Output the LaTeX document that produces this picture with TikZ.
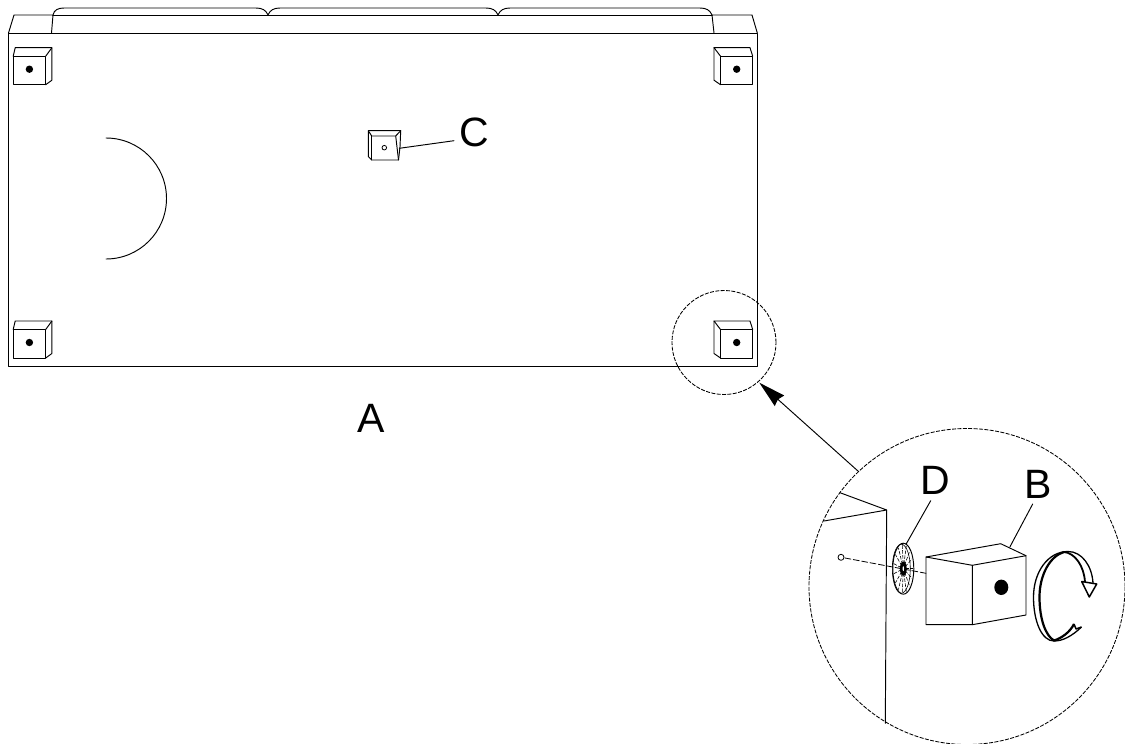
\documentclass[tikz,border=0pt]{standalone}
\usepackage{fontspec}
\setmainfont{Liberation Sans}
\usetikzlibrary{arrows.meta}
\tikzset{
  ln/.style={draw=black,line width=0.95pt,line join=round,line cap=round},
  thin ln/.style={draw=black,line width=0.8pt,line cap=round},
  detail/.style={draw=black,line width=0.85pt,dash pattern=on 4pt off 1.4pt},
  lab/.style={inner sep=0pt,font=\fontsize{41}{41}\selectfont},
  rot/.style={draw=black,line width=1.5pt,line join=round}
}
\newcommand{\footL}[2]{% foot seen with its side on the right
  \begin{scope}[shift={(#1,#2)}]
    \draw[ln] (0,8.5) rectangle (32.5,37);
    \draw[ln] (0,8.5) -- (2,0) -- (38.7,0) -- (38.7,32.5) -- (32.5,37);
    \draw[ln] (32.5,8.5) -- (38.7,0);
    \fill (16.2,21.5) circle[radius=3.7];
  \end{scope}}
\newcommand{\footR}[2]{%
  \begin{scope}[shift={(#1,#2)}]
    \draw[ln] (6.5,8.5) rectangle (38.7,37);
    \draw[ln] (6.5,8.5) -- (0,0) -- (36,0) -- (38.7,8.5);
    \draw[ln] (0,0) -- (0,32.5) -- (6.5,37);
    \fill (22.7,21.5) circle[radius=3.7];
  \end{scope}}
\begin{document}
\begin{tikzpicture}[x=1pt,y=-1pt]
\useasboundingbox[fill=white] (0,0) rectangle (1125,744);
% main panel
\draw[ln] (8.5,33) rectangle (757.3,366);
\draw[ln] (8.5,33) -- (14,15) -- (53,15) -- (51.5,33);
\draw[ln] (714,33) -- (712,15) -- (752,15) -- (757.3,33);
\draw[ln] (53,15) -- (712,15);
\draw[ln] (53,15) .. controls (54,10) and (58,8) .. (64,8) -- (256,8)
  .. controls (262,8) and (266,10) .. (268,15)
  .. controls (270,10) and (274,8) .. (280,8) -- (486,8)
  .. controls (492,8) and (496,10) .. (498,15)
  .. controls (500,10) and (504,8) .. (510,8) -- (700,8)
  .. controls (706,8) and (710,10) .. (712,15);
% feet
\footL{13.2}{47.7}
\footR{714}{47.7}
\footL{13.2}{321}
\footR{714}{321}
% centre foot C
\draw[ln] (368.3,130.7) -- (400.7,130.7) -- (400,147) -- (398.5,160) -- (371.7,160) -- (368.3,156.5) -- cycle;
\draw[ln] (368.3,130.7) -- (371.7,136) -- (395.7,136) -- (400.7,130.7);
\draw[ln] (371.7,136) -- (371.7,160);
\draw[ln] (395.7,136) -- (398.5,160);
\draw[thin ln] (384.3,147.7) circle[radius=2.3];
% half round cut-out
\draw[ln] (106,138) arc[start angle=-90,end angle=90,radius=60.5];
% labels
\node[lab] (labA) at (371,418.5) {A};
\node[lab] (labC) at (474,132.5) {C};
\node[lab] (labD) at (935,480) {D};
\node[lab] (labB) at (1038,484) {B};
\coordinate (cFoot) at (399.3,148.3);
\coordinate (cEnd) at (454,140.7);
\draw[ln] (cFoot) -- (cEnd);
% detail circles and arrow
\node[detail,circle,minimum size=104pt,inner sep=0pt] (small) at (724,342.5) {};
\node[detail,circle,minimum size=316pt,inner sep=0pt] (big) at (967,586.5) {};
\coordinate (arrowTip) at (759.3,382.7);
\coordinate (arrowTail) at (858.5,471.5);
\draw[ln,-{Stealth[length=27pt,width=14pt,inset=2pt]}] (arrowTail) -- (arrowTip);
% wall in the detail
\draw[ln] (840,492.7) -- (886.7,510) -- (824,521);
\draw[ln] (886.7,510) -- (885.3,723.3);
\draw[thin ln] (841,557.3) circle[radius=3];
\draw[thin ln,dash pattern=on 6pt off 2.5pt] (845,558) -- (926,573.3);
% washer D
\begin{scope}[shift={(903.3,568.7)}]
  \draw[ln] (0,0) ellipse[x radius=10.5,y radius=25.5];
  \draw[thin ln,line width=0.6pt] (-2,0) ellipse[x radius=9,y radius=24.5];
  \foreach \a in {0,24,...,336}{
    \draw[line width=0.6pt,dash pattern=on 3.5pt off 1.5pt] ({2*cos(\a)},{5*sin(\a)}) -- ({9.7*cos(\a)},{24*sin(\a)});
  }
  \fill[black] (0,0) ellipse[x radius=3.4,y radius=7];
  \fill[white] (0,0) ellipse[x radius=0.7,y radius=2.5];
\end{scope}
% block B
\draw[ln] (926,557) -- (972.3,565.3) -- (972.3,624.7) -- (926,624.7) -- cycle;
\draw[ln] (972.3,565.3) -- (1026,555.7) -- (1026,615) -- (972.3,624.7);
\draw[ln] (926,557) -- (1000.7,543.7) -- (1026,555.7);
\fill (1001.3,587.3) ellipse[x radius=7,y radius=7.7];
\coordinate (dWasher) at (906,544.3);
\coordinate (dEnd) at (930.7,500.7);
\draw[ln] (dWasher) -- (dEnd);
\coordinate (bBlock) at (1010,546.7);
\coordinate (bEnd) at (1032.7,504);
\draw[ln] (bBlock) -- (bEnd);
% rotation arrow
\draw[rot,line width=1.3pt] (1081.5,627) .. controls (1072,636) and (1063,641) .. (1054,641)
  .. controls (1042,641) and (1033.5,622) .. (1033.5,597)
  .. controls (1033.5,572) and (1048,551.5) .. (1068,551.5)
  .. controls (1082,551.5) and (1092,566) .. (1093,583);
\draw[rot,line width=2.2pt] (1074,624) .. controls (1070,632) and (1062,638) .. (1054,640.5)
  .. controls (1046,636) and (1039.5,620) .. (1039.5,597)
  .. controls (1039.5,575) and (1050,556) .. (1064,552);
\draw[rot,line width=1.8pt] (1064,552) .. controls (1075,553) and (1084,566) .. (1085,582);
\draw[rot] (1081.7,581.5) -- (1096.7,584) -- (1089.3,597) -- cycle;
\draw[rot] (1081.5,627) -- (1076,629) -- (1074,624);
\end{tikzpicture}
\end{document}
